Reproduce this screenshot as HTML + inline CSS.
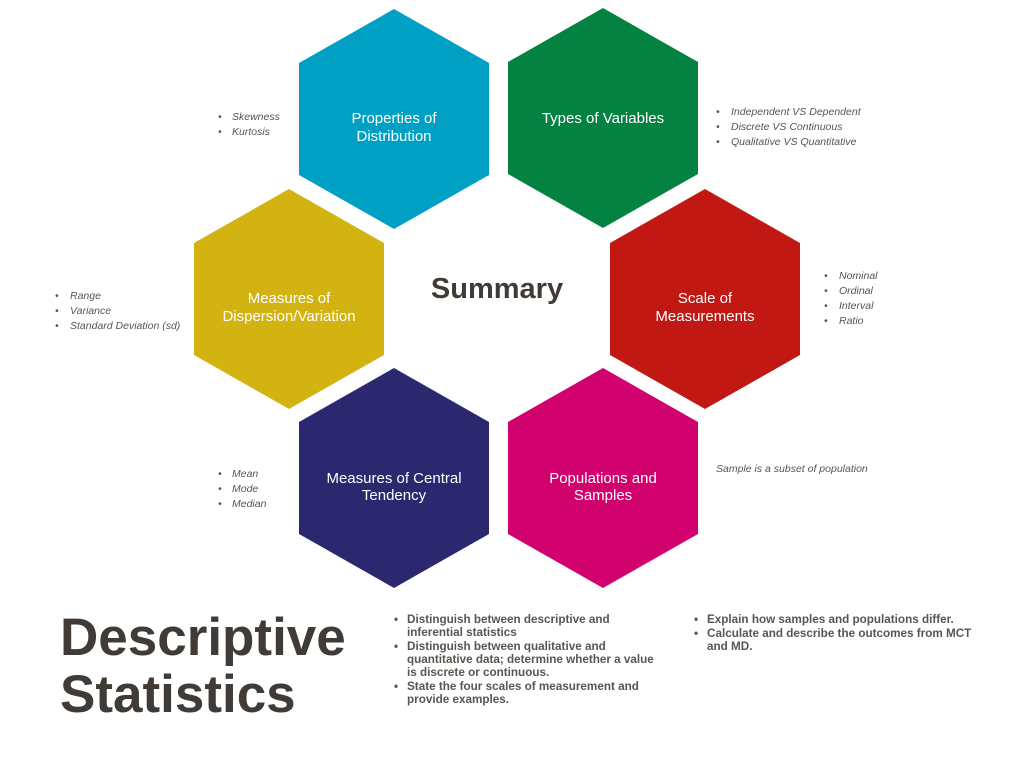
<!DOCTYPE html>
<html><head><meta charset="utf-8"><style>
html,body{margin:0;padding:0;background:#fff;}
svg{display:block;}
.h{font-family:"Liberation Sans",sans-serif;fill:#fff;font-size:15px;text-anchor:middle;}
.s{font-family:"Liberation Sans",sans-serif;fill:#555;font-size:10.5px;font-style:italic;}
.b{font-family:"Liberation Sans",sans-serif;fill:#5a5550;font-size:11.7px;font-weight:bold;}
</style></head><body>
<svg width="1024" height="768" viewBox="0 0 1024 768">
<defs><polygon id="hx" points="0,-110 95,-56 95,56 0,110 -95,56 -95,-56"/></defs>
<use href="#hx" x="394" y="119" fill="#00a0c4"/>
<use href="#hx" x="603" y="118" fill="#048241"/>
<use href="#hx" x="289" y="299" fill="#d3b311"/>
<use href="#hx" x="705" y="299" fill="#c21813"/>
<use href="#hx" x="394" y="478" fill="#2b2870"/>
<use href="#hx" x="603" y="478" fill="#d1016e"/>

<text class="h" x="394" y="123">Properties of</text>
<text class="h" x="394" y="141">Distribution</text>
<text class="h" x="603" y="123">Types of Variables</text>
<text class="h" x="289" y="303">Measures of</text>
<text class="h" x="289" y="321">Dispersion/Variation</text>
<text class="h" x="705" y="303">Scale of</text>
<text class="h" x="705" y="321">Measurements</text>
<text class="h" x="394" y="483">Measures of Central</text>
<text class="h" x="394" y="500">Tendency</text>
<text class="h" x="603" y="483">Populations and</text>
<text class="h" x="603" y="500">Samples</text>

<text x="497" y="298" font-family="Liberation Sans,sans-serif" font-weight="bold" font-size="29" fill="#403b36" text-anchor="middle">Summary</text>

<g class="s">
<text x="218" y="120">•</text><text x="232" y="120">Skewness</text>
<text x="218" y="135">•</text><text x="232" y="135">Kurtosis</text>
<text x="716" y="115">•</text><text x="731" y="115">Independent VS Dependent</text>
<text x="716" y="130">•</text><text x="731" y="130">Discrete VS Continuous</text>
<text x="716" y="145">•</text><text x="731" y="145">Qualitative VS Quantitative</text>
<text x="824" y="279">•</text><text x="839" y="279">Nominal</text>
<text x="824" y="294">•</text><text x="839" y="294">Ordinal</text>
<text x="824" y="309">•</text><text x="839" y="309">Interval</text>
<text x="824" y="324">•</text><text x="839" y="324">Ratio</text>
<text x="55" y="299">•</text><text x="70" y="299">Range</text>
<text x="55" y="314">•</text><text x="70" y="314">Variance</text>
<text x="55" y="329">•</text><text x="70" y="329">Standard Deviation (sd)</text>
<text x="218" y="477">•</text><text x="232" y="477">Mean</text>
<text x="218" y="492">•</text><text x="232" y="492">Mode</text>
<text x="218" y="507">•</text><text x="232" y="507">Median</text>
<text x="716" y="472">Sample is a subset of population</text>
</g>

<text x="60" y="655" font-family="Liberation Sans,sans-serif" font-weight="bold" font-size="53" fill="#403b36">Descriptive</text>
<text x="60" y="712" font-family="Liberation Sans,sans-serif" font-weight="bold" font-size="53" fill="#403b36">Statistics</text>

<g class="b">
<text x="394" y="623">•</text><text x="407" y="623">Distinguish between descriptive and</text>
<text x="407" y="636">inferential statistics</text>
<text x="394" y="650">•</text><text x="407" y="650">Distinguish between qualitative and</text>
<text x="407" y="663">quantitative data; determine whether a value</text>
<text x="407" y="676">is discrete or continuous.</text>
<text x="394" y="690">•</text><text x="407" y="690">State the four scales of measurement and</text>
<text x="407" y="703">provide examples.</text>
<text x="694" y="623">•</text><text x="707" y="623">Explain how samples and populations differ.</text>
<text x="694" y="637">•</text><text x="707" y="637">Calculate and describe the outcomes from MCT</text>
<text x="707" y="650">and MD.</text>
</g>
</svg>
</body></html>
